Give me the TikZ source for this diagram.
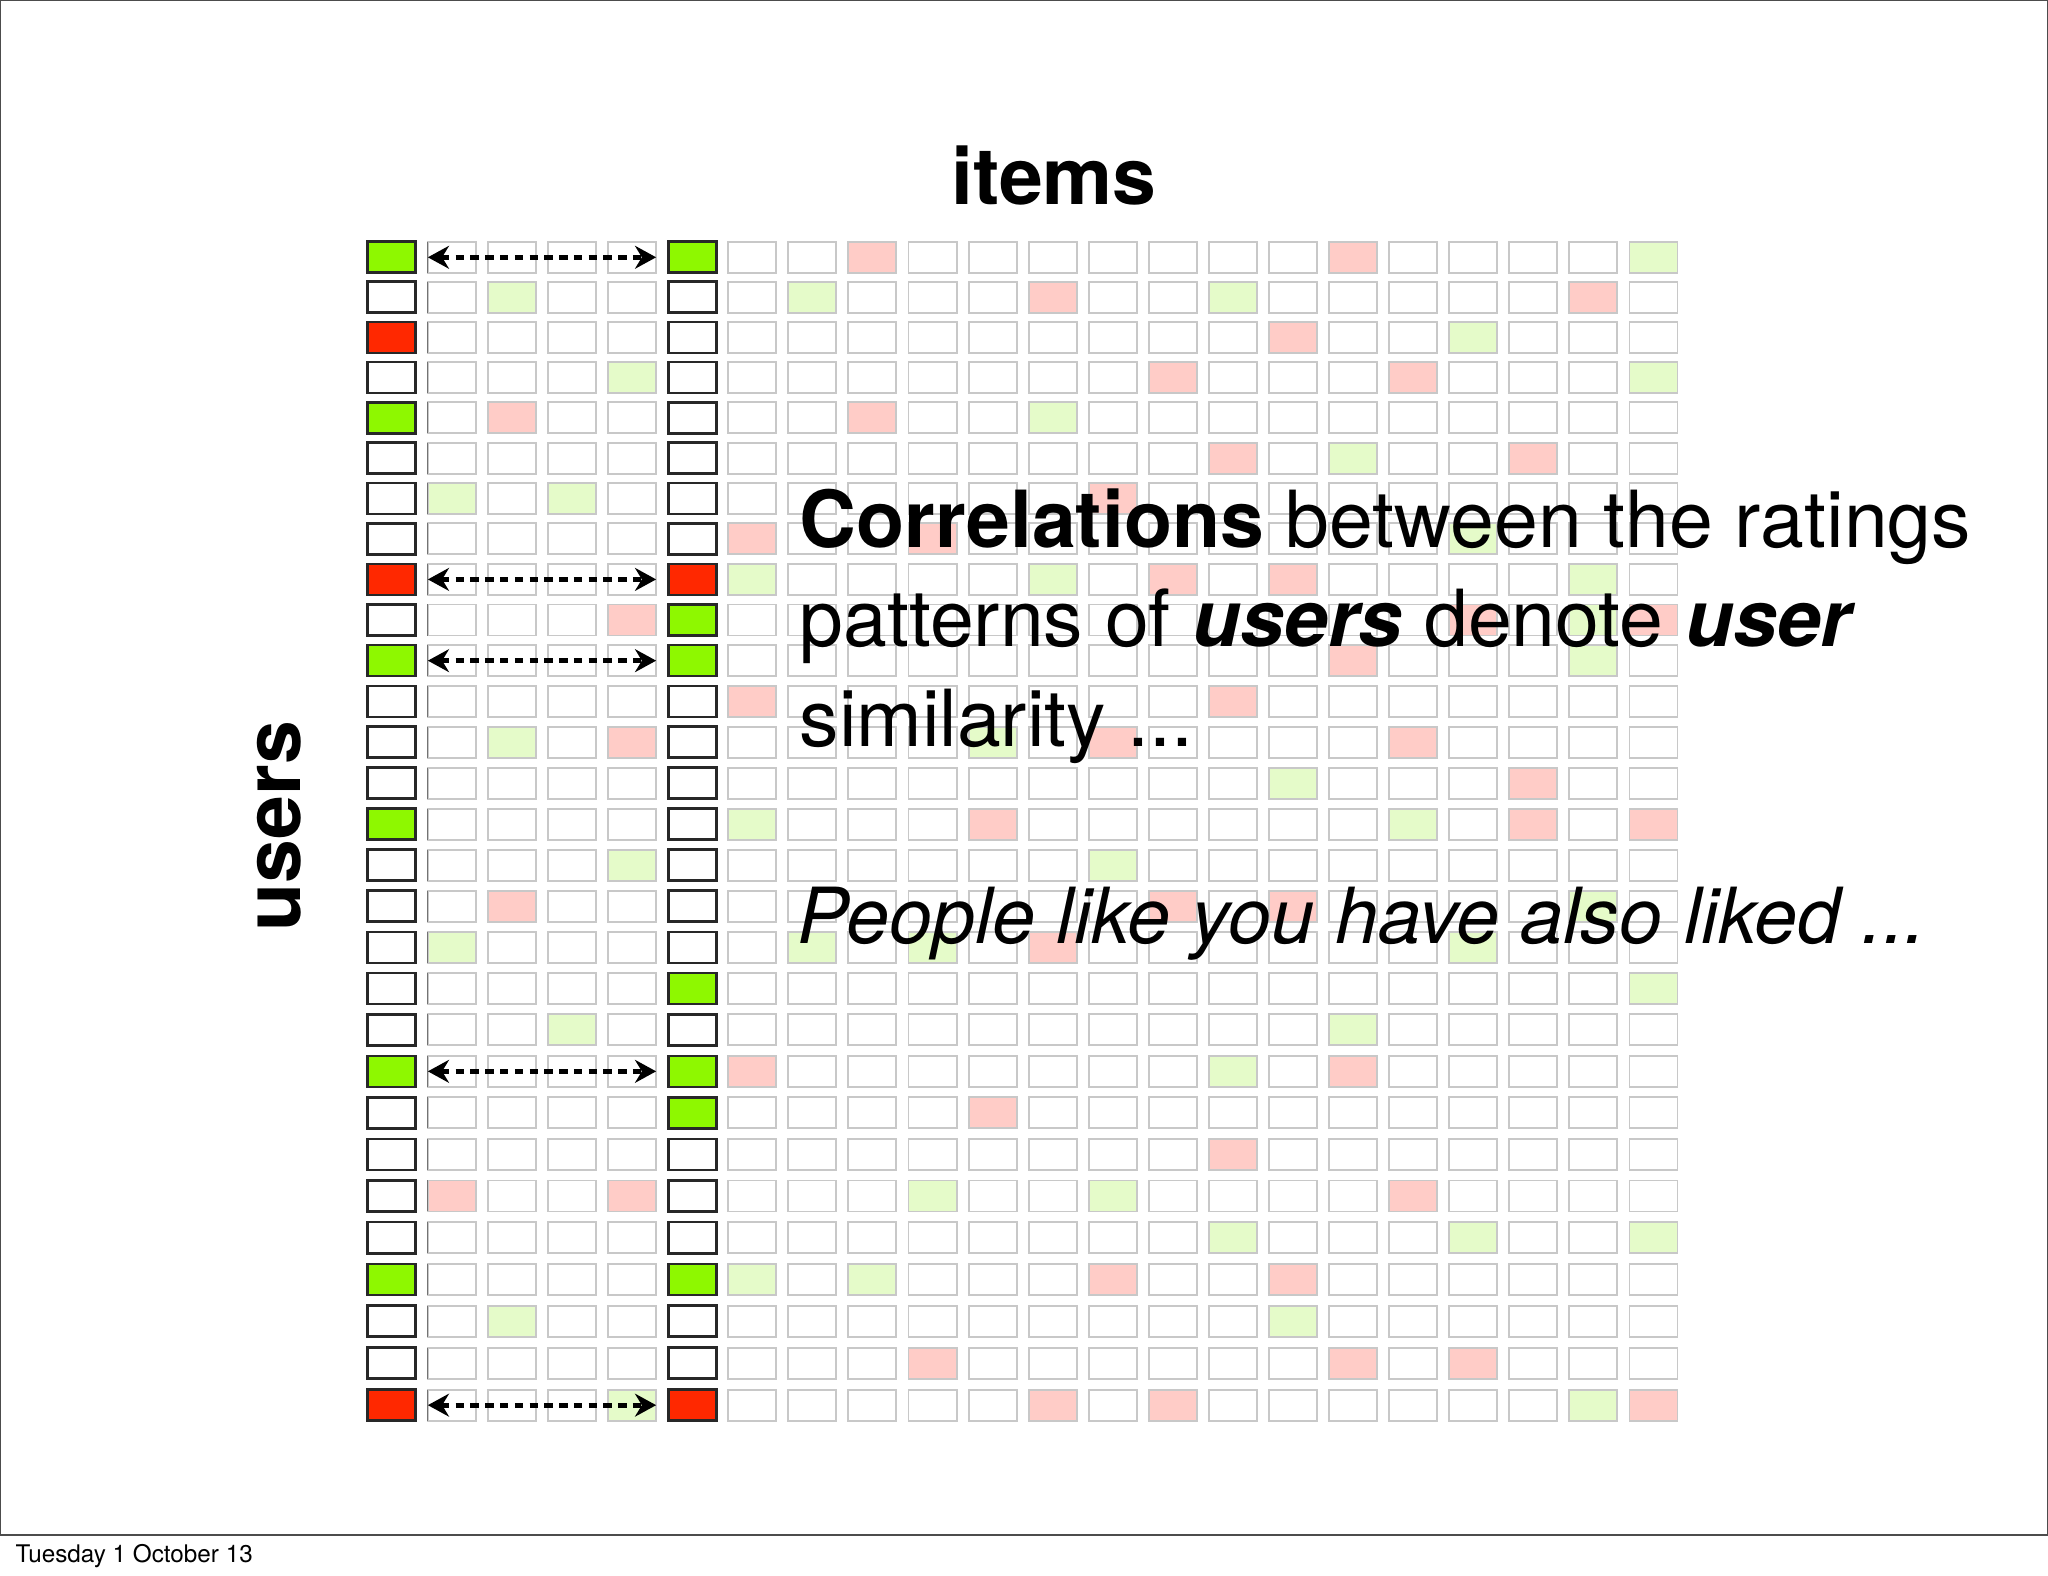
\documentclass[tikz,border=0pt]{standalone}
\usepackage{fontspec}
\setmainfont{TeX Gyre Heros}
\usepackage{tikz}
\usetikzlibrary{arrows.meta}

\definecolor{liked}{RGB}{142,248,0}
\definecolor{disliked}{RGB}{255,40,0}
\definecolor{likedpale}{RGB}{229,251,201}
\definecolor{dislikedpale}{RGB}{255,204,199}
\definecolor{cellgrey}{RGB}{200,200,200}
\definecolor{refgrey}{RGB}{40,40,40}

\tikzset{
  cell/.style={draw=cellgrey, line width=0.55pt, minimum width=0.48cm, minimum height=0.31cm, inner sep=0pt, outer sep=0pt},
  refcell/.style={cell, draw=refgrey, line width=0.75pt},
  edgeline/.style={draw=black!55, line width=0.35pt},
  pairarrow/.style={{Stealth[length=6pt,width=6.5pt]}-{Stealth[length=6pt,width=6.5pt]}, line width=1.35pt, dash pattern=on 2.4pt off 1.8pt},
  title/.style={anchor=base, inner sep=0pt, font=\bfseries\fontsize{22.4}{27}\selectfont},
  claim/.style={anchor=base west, inner sep=0pt, font=\fontsize{22.4}{28}\selectfont},
}

% rating of user-item -> colour
\newcommand\setrating[2]{\expandafter\gdef\csname rt@#1\endcsname{#2}}
\newcommand\getrating{\edef\cellfill{\ifcsname rt@\r-\c\endcsname\csname rt@\r-\c\endcsname\else white\fi}}

\begin{document}
\begin{tikzpicture}[x=0.01cm, y=-0.01cm]
	\useasboundingbox (0,0) rectangle (2048,1576);
	% slide frame
	\draw[line width=0.4pt, black!70] (0.5,0.5) rectangle (2047.5,1535);
	% ratings
	\foreach \k in {0-0,4-0,10-0,14-0,20-0,25-0,0-5,9-5,10-5,18-5,20-5,21-5,25-5}
		{\expandafter\setrating\expandafter{\k}{liked}}
	\foreach \k in {2-0,8-0,28-0,8-5,28-5}
		{\expandafter\setrating\expandafter{\k}{disliked}}
	\foreach \k in {0-21,1-2,1-7,1-14,2-18,3-4,3-21,4-11,5-16,6-1,6-3,7-18,8-6,8-11,8-20,9-20,10-20,12-2,12-10,13-15,14-6,14-17,15-4,15-12,16-20,17-1,17-7,17-9,17-18,18-21,19-3,19-16,20-14,23-9,23-12,24-14,24-18,24-21,25-6,25-8,26-2,26-15,28-4,28-20}
		{\expandafter\setrating\expandafter{\k}{likedpale}}
	\foreach \k in {0-8,0-16,1-11,1-20,2-15,3-13,3-17,4-2,4-8,5-14,5-19,6-12,7-6,7-9,8-13,8-15,9-4,9-18,9-21,10-16,11-6,11-14,12-4,12-12,12-17,13-19,14-10,14-19,14-21,16-2,16-13,16-15,17-11,20-6,20-16,21-10,22-14,23-1,23-4,23-17,25-12,25-15,27-9,27-16,27-18,28-11,28-13,28-21}
		{\expandafter\setrating\expandafter{\k}{dislikedpale}}
	% the two users being compared
	\foreach \c in {0,5}
		\foreach \r in {0,...,28}{
			\getrating
			\node[refcell, fill=\cellfill] (u\r-\c) at ({391.8+60.08*\c}, {257.3+39.97*\r+0.0366*\r*\r}) {};
		}
	% everybody else
	\foreach \c in {1,2,3,4,6,7,...,21}
		\foreach \r in {0,...,28}{
			\getrating
			\node[cell, fill=\cellfill] (u\r-\c) at ({391.8+60.08*\c}, {257.3+39.97*\r+0.0366*\r*\r}) {};
		}
	\foreach \r in {0,...,28}
		\draw[edgeline] (u\r-1.north west) -- (u\r-1.south west);
	% agreeing ratings
	\foreach \r in {0,8,10,20,28}
		\draw[pairarrow] (u\r-1.west) -- (u\r-4.east);
	% labels
	\node[title] (items) at (1054,205) {items};
	\node[title, anchor=center, rotate=90] (users) at (279,826) {users};
	\node[claim] (line1) at (799,547) {\textbf{Correlations} between the ratings};
	\node[claim] (line2) at (799,646) {patterns of \textbf{\textit{users}} denote \textbf{\textit{user}}};
	\node[claim] (line3) at (799,746) {similarity ...};
	\node[claim, font=\fontsize{22}{28}\selectfont] (people) at (797,943) {\textit{People like you have also liked ...}};
	\node[anchor=base west, inner sep=0pt, font=\fontsize{6.9}{8}\selectfont] (date) at (15,1562) {Tuesday 1 October 13};
\end{tikzpicture}
\end{document}
